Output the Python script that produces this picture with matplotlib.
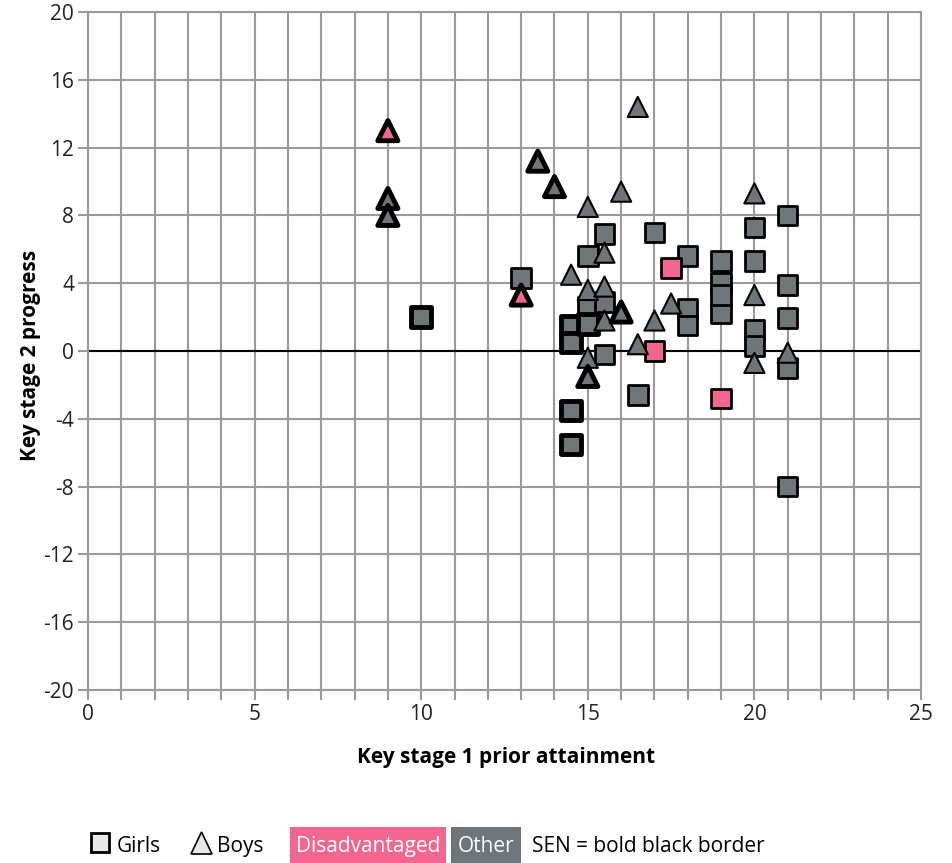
import matplotlib
matplotlib.use("Agg")
import matplotlib.pyplot as plt
from matplotlib.patches import Rectangle, Polygon

plt.rcParams['font.family'] = ['Open Sans', 'DejaVu Sans']
plt.rcParams['axes.unicode_minus'] = False

# Girls (squares): prior attainment, progress, disadvantaged?, SEN?
girls_x = [13, 15.5, 15, 17, 18, 17.5, 19, 19, 19, 19, 18, 18, 15, 15.5,
           14.5, 14.5, 15, 15.5, 17, 16.5, 19, 14.5, 14.5, 20, 20, 20, 20,
           21, 21, 21, 21, 21, 10]
girls_y = [4.3, 6.9, 5.6, 7.0, 5.6, 4.9, 5.3, 4.0, 2.2, 3.3, 2.5, 1.5, 2.6, 2.9,
           1.5, 0.5, 1.6, -0.2, 0.0, -2.6, -2.8, -3.5, -5.5, 7.3, 5.3, 1.25, 0.3,
           8.0, 3.9, 1.95, -1.0, -8.0, 2.0]
girls_dis = [0, 0, 0, 0, 0, 1, 0, 0, 0, 0, 0, 0, 0, 0,
             0, 0, 0, 0, 1, 0, 1, 0, 0, 0, 0, 0, 0,
             0, 0, 0, 0, 0, 0]
girls_sen = [0, 0, 0, 0, 0, 0, 0, 0, 0, 0, 0, 0, 0, 0,
             1, 1, 1, 0, 0, 0, 0, 1, 1, 0, 0, 0, 0,
             0, 0, 0, 0, 0, 1]

# Boys (triangles)
boys_x = [9, 9, 9, 13, 13.5, 14, 16.5, 16, 15, 15.5, 14.5, 15, 15.5, 15.5,
          16, 17, 17.5, 16.5, 15, 15, 20, 20, 20, 21]
boys_y = [13.0, 9.0, 8.0, 3.3, 11.2, 9.7, 14.4, 9.4, 8.5, 5.8, 4.5, 3.6, 3.8, 1.8,
          2.3, 1.8, 2.8, 0.4, -0.4, -1.5, 9.3, 3.3, -0.7, -0.1]
boys_dis = [1, 0, 0, 1, 0, 0, 0, 0, 0, 0, 0, 0, 0, 0,
            0, 0, 0, 0, 0, 0, 0, 0, 0, 0]
boys_sen = [1, 1, 1, 1, 1, 1, 0, 0, 0, 0, 0, 0, 0, 0,
            1, 0, 0, 0, 0, 1, 0, 0, 0, 0]

pink = '#f2668f'
grey = '#6f7679'
gridc = '#9a9a9a'
fs = 15

fig = plt.figure(figsize=(9.52, 8.63), dpi=100)
ax = fig.add_axes([88/952, 1-690/863, (921-88)/952, (690-12)/863])

ax.set_xlim(0, 25)
ax.set_ylim(-20, 20)
ax.set_xticks(range(0, 26))
ax.set_xticklabels([str(i) if i % 5 == 0 else '' for i in range(0, 26)])
ax.set_yticks(range(-20, 21, 4))
ax.grid(True, color=gridc, linewidth=1.5, zorder=0)
ax.set_axisbelow(True)
for s in ax.spines.values():
    s.set_color(gridc)
    s.set_linewidth(1.5)
ax.tick_params(axis='both', color=gridc, width=1.5, length=7, labelsize=fs,
               labelcolor='#222222', pad=3)
ax.axhline(0, color='black', linewidth=1.5, zorder=1)

gc = [pink if d else grey for d in girls_dis]
gl = [3.5 if s else 2.0 for s in girls_sen]
ax.scatter(girls_x, girls_y, marker='s', s=14**2, c=gc, edgecolors='black',
           linewidths=gl, zorder=3, clip_on=False)
bc = [pink if d else grey for d in boys_dis]
bl = [3.5 if s else 1.5 for s in boys_sen]
ax.scatter(boys_x, boys_y, marker='^', s=14.5**2, c=bc, edgecolors='black',
           linewidths=bl, zorder=4, clip_on=False)

ax.set_xlabel('Key stage 1 prior attainment', fontsize=fs, fontweight='bold')
ax.xaxis.label.set_va('center')
ax.xaxis.set_label_coords(0.502, -0.099)
ax.set_ylabel('Key stage 2 progress', fontsize=fs, fontweight='bold')
ax.yaxis.label.set_va('center')
ax.yaxis.set_label_coords(-0.0696, 0.494)

# legend along the bottom
W, H = 952, 863
def fx(px):
    return px / W
def fy(py):
    return 1 - py / H

fig.patches.append(Rectangle((fx(91), fy(852)), 18/W, 19/H, transform=fig.transFigure,
                             facecolor='#e8e8e8', edgecolor='black', linewidth=2))
fig.text(fx(117), fy(846), 'Girls', fontsize=fs, va='center', ha='left')
fig.patches.append(Polygon([(fx(191), fy(854)), (fx(212), fy(854)), (fx(201.5), fy(832))],
                           closed=True, transform=fig.transFigure,
                           facecolor='#e8e8e8', edgecolor='black', linewidth=1.2))
fig.text(fx(217), fy(846), 'Boys', fontsize=fs, va='center', ha='left')
fig.patches.append(Rectangle((fx(290), fy(863)), 156/W, 36/H, transform=fig.transFigure,
                             facecolor=pink, edgecolor='none'))
fig.text(fx(368), fy(846), 'Disadvantaged', fontsize=fs, va='center', ha='center',
         color='white')
fig.patches.append(Rectangle((fx(451), fy(863)), 70/W, 36/H, transform=fig.transFigure,
                             facecolor=grey, edgecolor='none'))
fig.text(fx(486), fy(846), 'Other', fontsize=fs, va='center', ha='center',
         color='white')
fig.text(fx(532), fy(846), 'SEN = bold black border', fontsize=fs, va='center',
         ha='left')

plt.savefig('out.png', dpi=100)
plt.close()
